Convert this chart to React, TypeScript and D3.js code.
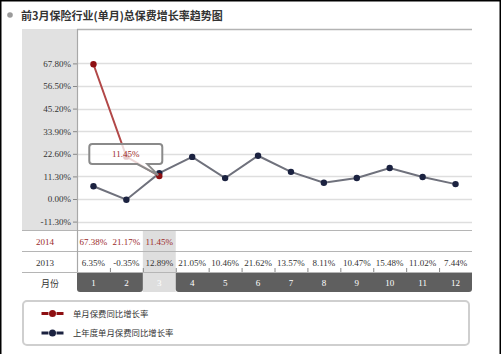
import * as d3 from 'd3'
import { useEffect, useRef } from 'react'

const months = ['1', '2', '3', '4', '5', '6', '7', '8', '9', '10', '11', '12']
const rate2014 = [67.38, 21.17, 11.45]
const rate2013 = [6.35, -0.35, 12.89, 21.05, 10.46, 21.62, 13.57, 8.11, 10.47, 15.48, 11.02, 7.44]
const yTicks = [-11.3, 0, 11.3, 22.6, 33.9, 45.2, 56.5, 67.8]
const rowLabels = ['2014', '2013', '月份']
const legendNames = ['单月保费同比增长率', '上年度单月保费同比增长率']
const title = '前3月保险行业(单月)总保费增长率趋势图'
const currentMonth = '3'

const NUM_FONT = '"Liberation Serif", serif'
const CJK_FONT = '"Noto Sans CJK SC", sans-serif'
const RED_LINE = '#b24848'
const RED_DOT = '#8e0f12'
const NAVY_LINE = '#6f717c'
const NAVY_DOT = '#1b2240'

export default function App() {
    const svgRef = useRef<SVGSVGElement>(null)

    useEffect(() => {
        const w = 502
        const h = 354
        const svg = d3.select(svgRef.current)
        svg.selectAll('*').remove()
        svg.attr('width', w).attr('height', h).style('background', '#fff')

        const left = 77
        const right = 472
        const top = 29
        const plotBottom = 229

        const x = d3.scaleBand().domain(months).range([left, right]).padding(0)
        const cx = (m: string) => (x(m) as number) + x.bandwidth() / 2
        const y = d3.scaleLinear().domain([-15, 85]).range([plotBottom, top])

        // frame
        svg.append('path')
           .attr('d', `M0.75,${h} V0.75 H500.25 V${h}`)
           .attr('fill', 'none')
           .attr('stroke', '#000')
           .attr('stroke-width', 1.5)

        // title
        svg.append('circle').attr('cx', 10).attr('cy', 15).attr('r', 2.8).attr('fill', '#9a9a9a')
        svg.append('text')
           .attr('x', 21).attr('y', 19.5)
           .attr('font-family', CJK_FONT).attr('font-size', 11).attr('font-weight', 'bold')
           .attr('fill', '#333')
           .text(title)

        // y-axis panel
        svg.append('rect')
           .attr('x', 22).attr('y', top).attr('width', left - 22).attr('height', 230 - top)
           .attr('fill', '#e1e1e1')

        // grid lines
        svg.append('g')
           .selectAll('line')
           .data(yTicks)
           .join('line')
           .attr('x1', left).attr('x2', right)
           .attr('y1', d => Math.round(y(d)) + 0.5).attr('y2', d => Math.round(y(d)) + 0.5)
           .attr('stroke', '#dedede').attr('stroke-width', 1.5)

        svg.append('line')
           .attr('x1', left).attr('x2', right).attr('y1', top + 0.5).attr('y2', top + 0.5)
           .attr('stroke', '#b3b3b3').attr('stroke-width', 1.5)

        // y axis
        const yAxis = d3.axisLeft(y)
                        .tickValues(yTicks)
                        .tickFormat(d => (d as number).toFixed(2) + '%')
                        .tickSize(4)
                        .tickPadding(2)
        const ya = svg.append('g').attr('transform', `translate(${left},0)`).call(yAxis)
        ya.select('.domain').remove()
        ya.selectAll('line').attr('stroke', '#888')
        ya.selectAll('text')
          .attr('font-family', NUM_FONT).attr('font-size', 9).attr('fill', '#333')

        // table
        const rowTop = [230, 251, 272]
        const rowBottom = 292
        // highlighted month column
        svg.append('rect')
           .attr('x', x(currentMonth) as number).attr('y', 230)
           .attr('width', x.bandwidth()).attr('height', rowBottom - 230)
           .attr('fill', '#dedede')

        // month band (rounded bottom)
        const bandPath = (x0: number, x1: number, y0: number, y1: number, r: number) =>
            `M${x0},${y0} H${x1} V${y1 - r} Q${x1},${y1} ${x1 - r},${y1} H${x0 + r} Q${x0},${y1} ${x0},${y1 - r} Z`
        const xc0 = x(currentMonth) as number
        const xc1 = xc0 + x.bandwidth()
        svg.append('path').attr('d', bandPath(left, xc0, rowTop[2], rowBottom, 3)).attr('fill', '#5f5f5f')
        svg.append('path').attr('d', bandPath(xc1, right, rowTop[2], rowBottom, 3)).attr('fill', '#5f5f5f')

        svg.selectAll('.row-line')
           .data(rowTop)
           .join('line')
           .attr('class', 'row-line')
           .attr('x1', 22).attr('x2', right)
           .attr('y1', d => d + 0.5).attr('y2', d => d + 0.5)
           .attr('stroke', '#b5b5b5').attr('stroke-width', 1.2)

        svg.append('line')
           .attr('x1', left + 0.5).attr('x2', left + 0.5).attr('y1', top).attr('y2', rowTop[2])
           .attr('stroke', '#a8a8a8').attr('stroke-width', 1.2)

        // column ticks above month band
        svg.append('g')
           .selectAll('line')
           .data(months.slice(1))
           .join('line')
           .attr('x1', d => (x(d) as number) + 0.5).attr('x2', d => (x(d) as number) + 0.5)
           .attr('y1', rowTop[2] - 4).attr('y2', rowTop[2])
           .attr('stroke', '#888')

        // row labels
        svg.append('g')
           .selectAll('text')
           .data(rowLabels)
           .join('text')
           .attr('x', (d, i) => (i < 2 ? 45 : 50))
           .attr('y', (d, i) => rowTop[i] + 14.5)
           .attr('text-anchor', 'middle')
           .attr('font-family', (d, i) => (i < 2 ? NUM_FONT : CJK_FONT))
           .attr('font-size', 9)
           .attr('fill', (d, i) => (i === 0 ? '#9b2a2a' : '#333'))
           .text(d => d)

        svg.append('g')
           .selectAll('text')
           .data(rate2014)
           .join('text')
           .attr('x', (d, i) => cx(months[i]))
           .attr('y', rowTop[0] + 14.5)
           .attr('text-anchor', 'middle')
           .attr('font-family', NUM_FONT).attr('font-size', 9)
           .attr('fill', '#9b2a2a')
           .text(d => d.toFixed(2) + '%')

        svg.append('g')
           .selectAll('text')
           .data(rate2013)
           .join('text')
           .attr('x', (d, i) => cx(months[i]))
           .attr('y', rowTop[1] + 14.5)
           .attr('text-anchor', 'middle')
           .attr('font-family', NUM_FONT).attr('font-size', 9)
           .attr('fill', '#333')
           .text(d => d.toFixed(2) + '%')

        svg.append('g')
           .selectAll('text')
           .data(months)
           .join('text')
           .attr('x', d => cx(d))
           .attr('y', rowTop[2] + 14)
           .attr('text-anchor', 'middle')
           .attr('font-family', NUM_FONT).attr('font-size', 9)
           .attr('fill', '#fff')
           .text(d => d)

        // series
        const line = d3.line<number>()
                       .x((d, i) => cx(months[i]))
                       .y(d => y(d))

        svg.append('path')
           .datum(rate2013)
           .attr('fill', 'none').attr('stroke', NAVY_LINE).attr('stroke-width', 2)
           .attr('d', line)
        svg.append('g')
           .selectAll('circle')
           .data(rate2013)
           .join('circle')
           .attr('cx', (d, i) => cx(months[i])).attr('cy', d => y(d)).attr('r', 3.2)
           .attr('fill', NAVY_DOT)

        svg.append('path')
           .datum(rate2014)
           .attr('fill', 'none').attr('stroke', RED_LINE).attr('stroke-width', 2)
           .attr('d', line)
        svg.append('g')
           .selectAll('circle')
           .data(rate2014)
           .join('circle')
           .attr('cx', (d, i) => cx(months[i])).attr('cy', d => y(d)).attr('r', 3.2)
           .attr('fill', RED_DOT)

        // tooltip on the current month
        const ti = months.indexOf(currentMonth)
        const px = cx(currentMonth)
        const py = y(rate2014[ti])
        const bx0 = px - 70, bx1 = px + 3, by0 = py - 32, by1 = py - 12, r = 3
        const tip = `M${bx0 + r},${by0} H${bx1 - r} Q${bx1},${by0} ${bx1},${by0 + r} V${by1 - r} Q${bx1},${by1} ${bx1 - r},${by1}`
                  + ` H${px - 12} L${px - 1},${py - 1} L${px - 22},${by1} H${bx0 + r} Q${bx0},${by1} ${bx0},${by1 - r}`
                  + ` V${by0 + r} Q${bx0},${by0} ${bx0 + r},${by0} Z`
        svg.append('path')
           .attr('d', tip)
           .attr('fill', '#fff').attr('fill-opacity', 0.78)
           .attr('stroke', '#8a8a8a').attr('stroke-width', 2)
        svg.append('text')
           .attr('x', (bx0 + bx1) / 2).attr('y', (by0 + by1) / 2 + 3)
           .attr('text-anchor', 'middle')
           .attr('font-family', NUM_FONT).attr('font-size', 9)
           .attr('fill', '#9b2a2a')
           .text(rate2014[ti].toFixed(2) + '%')

        // legend
        svg.append('rect')
           .attr('x', 23).attr('y', 301).attr('width', 446).attr('height', 44).attr('rx', 4)
           .attr('fill', '#fff').attr('stroke', '#cfcfcf').attr('stroke-width', 2)
        const lg = svg.append('g')
                      .selectAll('g')
                      .data(legendNames)
                      .join('g')
                      .attr('transform', (d, i) => `translate(0, ${313.5 + i * 19.5})`)
        lg.append('line')
          .attr('x1', 41.5).attr('x2', 63.5).attr('y1', 0).attr('y2', 0)
          .attr('stroke', (d, i) => (i === 0 ? RED_DOT : NAVY_DOT))
          .attr('stroke-width', 3)
          .attr('stroke-dasharray', '7,8,7')
        lg.append('circle')
          .attr('cx', 52.5).attr('cy', 0).attr('r', 3.5)
          .attr('fill', (d, i) => (i === 0 ? RED_DOT : NAVY_DOT))
        lg.append('text')
          .attr('x', 73).attr('y', 3)
          .attr('font-family', CJK_FONT).attr('font-size', 8.4)
          .attr('fill', '#333')
          .text(d => d)
    }, [])

    return (
        <svg ref={svgRef} style={{ position: 'fixed', left: 0, top: 0, display: 'block' }} />
    )
}
